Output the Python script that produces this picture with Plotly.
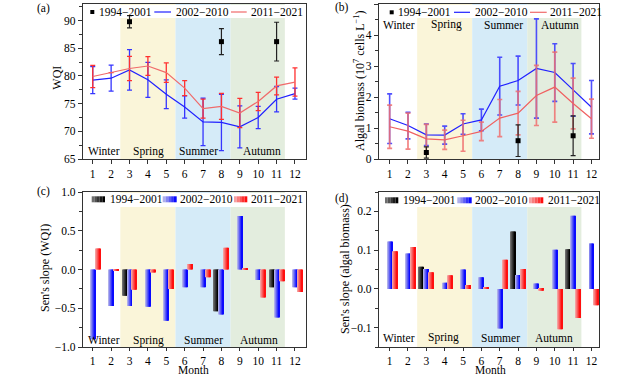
import plotly.graph_objects as go

months = list(range(1, 13))
seasons = ["Winter", "Spring", "Summer", "Autumn"]
periods = ["1994\u22122001", "2002\u22122010", "2011\u22122021"]

# (a) WQI
wqi_9401 = [None, None, 89.8, None, None, None, None, 86.2, None, None, 86.2, None]
wqi_9401_err = [0, 0, 1.1, 0, 0, 0, 0, 2.35, 0, 0, 3.5, 0]
wqi_0210 = [79.25, 79.6, 81.1, 79.3, 76.7, 74.4, 71.7, 71.6, 70.8, 72.5, 75.8, 76.8]
wqi_0210_err = [2.45, 2.35, 3.65, 3.15, 2.6, 2.0, 4.3, 5.1, 3.8, 2.0, 2.3, 1.0]
wqi_1121 = [79.9, 80.6, 81.35, 81.8, 80.6, 77.8, 74.1, 74.5, 73.3, 75.4, 78.2, 78.9]
wqi_1121_err = [2.0, None, 2.2, 1.7, 1.75, 1.35, 1.7, 2.35, 2.65, 1.65, 1.6, 2.55]

# (b) Algal biomass (10^7 cells/L)
alg_9401 = [None, None, 0.21, None, None, None, None, 0.59, None, None, 0.75, None]
alg_9401_err = [0, 0, 0.18, 0, 0, 0, 0, 0.51, 0, 0, 0.64, 0]
alg_0210 = [1.30, 1.08, 0.78, 0.77, 1.13, 1.26, 2.35, 2.53, 2.92, 2.79, 2.23, 1.67]
alg_0210_err = [0.8, 0.43, 0.35, 0.29, 0.33, 0.35, 0.93, 0.79, 1.6, 0.93, 0.85, 0.86]
alg_1121 = [1.04, 0.90, 0.65, 0.62, 0.75, 0.89, 1.32, 1.48, 2.05, 2.32, 1.79, 1.30]
alg_1121_err = [0.7, 0.58, 0.47, 0.31, 0.5, 0.3, 0.6, 0.7, 0.97, 1.13, 0.82, 0.63]

# (c) Sen's slope (WQI)
s_wqi_9401 = [None, None, -0.34, None, None, None, None, -0.54, None, None, -0.23, None]
s_wqi_0210 = [-0.90, -0.47, -0.47, -0.48, -0.66, -0.23, -0.23, -0.58, 0.69, -0.135, -0.62, -0.23]
s_wqi_1121 = [0.27, -0.01, -0.26, -0.04, -0.25, 0.07, -0.10, 0.28, 0.01, -0.36, -0.15, -0.29]

# (d) Sen's slope (algal biomass)
s_alg_9401 = [None, None, 0.057, None, None, None, None, 0.148, None, None, 0.102, None]
s_alg_0210 = [0.122, 0.091, 0.051, 0.016, 0.050, 0.030, -0.102, 0.036, 0.014, 0.101, 0.189, 0.117]
s_alg_1121 = [0.097, 0.108, 0.043, 0.035, 0.010, 0.003, 0.075, 0.051, -0.005, -0.104, -0.075, -0.042]

W, H = 640, 376
FONT = "Liberation Serif, Times New Roman, serif"
FS = 11.5


def X(px):
    return px / W


def Y(py):
    return 1 - py / H


fig = go.Figure()

# ---------- (a) ----------
fig.add_trace(go.Scatter(x=months, y=wqi_0210, mode="lines", line=dict(color="#2020ff", width=1.2),
                         error_y=dict(type="data", array=wqi_0210_err, color="#3535ff", thickness=1.3, width=2.5),
                         xaxis="x", yaxis="y", showlegend=False))
fig.add_trace(go.Scatter(x=months, y=wqi_1121, mode="lines", line=dict(color="#f06a6a", width=1.2),
                         error_y=dict(type="data", array=wqi_1121_err, color="#ff3030", thickness=1.3, width=2.5),
                         xaxis="x", yaxis="y", showlegend=False))
fig.add_trace(go.Scatter(x=months, y=wqi_9401, mode="markers", marker=dict(symbol="square", size=5, color="black"),
                         error_y=dict(type="data", array=wqi_9401_err, color="#222", thickness=1.2, width=2.5),
                         xaxis="x", yaxis="y", showlegend=False))

# ---------- (b) ----------
fig.add_trace(go.Scatter(x=months, y=alg_0210, mode="lines", line=dict(color="#2020ff", width=1.2),
                         error_y=dict(type="data", array=alg_0210_err, color="rgba(50,50,255,0.85)", thickness=1.6, width=2.5),
                         xaxis="x2", yaxis="y2", showlegend=False))
fig.add_trace(go.Scatter(x=months, y=alg_1121, mode="lines", line=dict(color="#f06060", width=1.2),
                         error_y=dict(type="data", array=alg_1121_err, color="rgba(240,110,110,0.85)", thickness=1.7, width=2.5),
                         xaxis="x2", yaxis="y2", showlegend=False))
fig.add_trace(go.Scatter(x=months, y=alg_9401, mode="markers", marker=dict(symbol="square", size=5, color="black"),
                         error_y=dict(type="data", array=alg_9401_err, color="#222", thickness=1.2, width=2.5),
                         xaxis="x2", yaxis="y2", showlegend=False))

# ---------- gradient bars ----------
BW = 0.27
NSTRIP = 5
grads = {
    "black": ((110, 110, 110), (0, 0, 0)),
    "blue": ((175, 175, 235), (10, 10, 255)),
    "red": ((245, 160, 160), (255, 15, 15)),
}


def mix(c0, c1, t):
    return "rgb(%d,%d,%d)" % tuple(round(a + (b - a) * t) for a, b in zip(c0, c1))


def grad_bars(vals, slot, key, xa, ya):
    c0, c1 = grads[key]
    for k in range(NSTRIP):
        t = k / (NSTRIP - 1)
        fig.add_trace(go.Bar(x=months, y=vals, offset=slot * BW - BW / 2 + k * BW / NSTRIP,
                             width=BW / NSTRIP, marker=dict(color=mix(c0, c1, t), line=dict(width=0)),
                             xaxis=xa, yaxis=ya, showlegend=False, hoverinfo="skip"))


for xa, ya, v1, v2, v3 in [("x3", "y3", s_wqi_9401, s_wqi_0210, s_wqi_1121),
                           ("x4", "y4", s_alg_9401, s_alg_0210, s_alg_1121)]:
    grad_bars(v1, -1, "black", xa, ya)
    grad_bars(v2, 0, "blue", xa, ya)
    grad_bars(v3, 1, "red", xa, ya)

# ---------- axes ----------
axline = dict(showline=True, linecolor="#333", linewidth=1.3, mirror=True, showgrid=False, zeroline=False,
              ticks="outside", ticklen=4, tickwidth=1.2, tickcolor="#333", automargin=False,
              tickfont=dict(family=FONT, size=FS, color="black"))
xbot = dict(axline, ticklen=3)

dA = [X(83), X(306)]
dB = [X(379), X(599)]
dTop = [Y(159), Y(4)]
dBot = [Y(347), Y(192)]

fig.update_layout(
    width=W, height=H, margin=dict(l=0, r=0, t=0, b=0, pad=0),
    paper_bgcolor="white", plot_bgcolor="white", barmode="overlay", showlegend=False,
    font=dict(family=FONT, size=FS, color="black"),
    xaxis=dict(domain=dA, range=[0.47, 12.6], tickvals=months, anchor="y", **axline),
    yaxis=dict(domain=dTop, range=[65, 93], tickvals=[65, 70, 75, 80, 85, 90], anchor="x",
               minor=dict(dtick=2.5, tick0=65, ticks="outside", ticklen=2.5, tickcolor="#333"), **axline),
    xaxis2=dict(domain=dB, range=[0.42, 12.41], tickvals=months, anchor="y2", **axline),
    yaxis2=dict(domain=dTop, range=[0, 5], tickvals=[0, 1, 2, 3, 4, 5], anchor="x2",
                minor=dict(dtick=0.5, tick0=0, ticks="outside", ticklen=2.5, tickcolor="#333"), **axline),
    xaxis3=dict(domain=dA, range=[0.47, 12.6], tickvals=months, anchor="y3", **xbot),
    yaxis3=dict(domain=dBot, range=[-1, 1], tickvals=[-1, -0.5, 0, 0.5, 1], tickformat=".1f", anchor="x3",
                minor=dict(dtick=0.25, tick0=0, ticks="outside", ticklen=2.5, tickcolor="#333"), **axline),
    xaxis4=dict(domain=dB, range=[0.42, 12.41], tickvals=months, anchor="y4", **xbot),
    yaxis4=dict(domain=dBot, range=[-0.15, 0.25], tickvals=[-0.1, 0, 0.1, 0.2], tickformat=".1f", anchor="x4",
                minor=dict(dtick=0.05, tick0=0, ticks="outside", ticklen=2.5, tickcolor="#333"), **axline),
)

# ---------- season shading ----------
season_spans = [(2.5, 5.5, "#faf5d9"), (5.5, 8.5, "#d5ebf8"), (8.5, 11.45, "#e3edde")]
shapes = []
for xr, yr in [("x", "y"), ("x2", "y2"), ("x3", "y3"), ("x4", "y4")]:
    for x0, x1, c in season_spans:
        shapes.append(dict(type="rect", xref=xr, yref=yr + " domain", x0=x0, x1=x1, y0=0, y1=1,
                           fillcolor=c, line=dict(width=0), layer="below"))

# legend white backgrounds
for (x0, x1, y0, y1) in [(85, 305, 5, 18), (381, 598, 5, 18), (85, 305, 193, 207), (381, 598, 193, 207)]:
    shapes.append(dict(type="rect", xref="paper", yref="paper", x0=X(x0), x1=X(x1), y0=Y(y1), y1=Y(y0),
                       fillcolor="white", line=dict(width=0), layer="below"))

annotations = []


def txt(x, y, s, xanchor="left", size=FS, angle=0, xref="paper", yref="paper", pad=1):
    annotations.append(dict(x=x, y=y, xref=xref, yref=yref, text=s, showarrow=False, xanchor=xanchor,
                            yanchor="middle", textangle=angle, borderpad=pad,
                            font=dict(family=FONT, size=size, color="black")))


# line legends for (a) and (b)
for (sq, t1, l2, t2, l3, t3, yy) in [(92.3, 97, (154.3, 171), 173.5, (231, 246.7), 249.3, 12),
                                      (391.7, 396, (454, 470), 472.5, (530, 546.7), 547.5, 12.3)]:
    shapes.append(dict(type="rect", xref="paper", yref="paper", x0=X(sq - 2), x1=X(sq + 2), y0=Y(yy + 2), y1=Y(yy - 2),
                       fillcolor="black", line=dict(width=0)))
    shapes.append(dict(type="line", xref="paper", yref="paper", x0=X(l2[0]), x1=X(l2[1]), y0=Y(yy), y1=Y(yy),
                       line=dict(color="#2020ff", width=1.2)))
    shapes.append(dict(type="line", xref="paper", yref="paper", x0=X(l3[0]), x1=X(l3[1]), y0=Y(yy), y1=Y(yy),
                       line=dict(color="#f06a6a", width=1.2)))
    for tx, lab in zip([t1, t2, t3], periods):
        txt(X(tx), Y(yy), lab)

# bar legends for (c) and (d)
for (sw, tx, yy) in [([(91.7, 105), (162.7, 176.7), (234, 247.3)], [107.5, 178.2, 249.3], 199.3),
                     ([(385, 398.3), (457.3, 471.7), (529, 543.3)], [401, 473.3, 546], 200.3)]:
    for (a, b), key in zip(sw, ["black", "blue", "red"]):
        c0, c1 = grads[key]
        n = 5
        for k in range(n):
            shapes.append(dict(type="rect", xref="paper", yref="paper",
                               x0=X(a + (b - a) * k / n), x1=X(a + (b - a) * (k + 1) / n),
                               y0=Y(yy + 3), y1=Y(yy - 3), fillcolor=mix(c0, c1, k / (n - 1)),
                               line=dict(width=0)))
    for t, lab in zip(tx, periods):
        txt(X(t), Y(yy), lab)

# season labels
season_pos = {
    ("x", "y"): ([1.61, 4.02, 6.74, 10.19], 0.05),
    ("x2", "y2"): ([1.51, 4.09, 7.18, 10.31], 0.865),
    ("x3", "y3"): ([1.61, 4.02, 7.05, 10.06], 0.045),
    ("x4", "y4"): ([1.51, 3.95, 7.04, 9.97], 0.06),
}
for (xr, yr), (xs, yv) in season_pos.items():
    for xv, s in zip(xs, seasons):
        txt(xv, yv, s, xanchor="center", xref=xr, yref=yr + " domain")

# panel labels
for lab, px, py in [("(a)", 43, 8.5), ("(b)", 342, 7.5), ("(c)", 43.5, 192), ("(d)", 342, 198.5)]:
    txt(X(px), Y(py), lab, xanchor="center")

# axis titles
txt(X(56.7), Y(78), "WQI", xanchor="center", angle=-90, size=12)
txt(X(359), Y(81), "Algal biomass (10<sup>7</sup> cells L<sup>\u22121</sup>)", xanchor="center", angle=-90, size=12)
txt(X(45), Y(268), "Sen's slope (WQI)", xanchor="center", angle=-90, size=12)
txt(X(345), Y(269), "Sen's slope (algal biomass)", xanchor="center", angle=-90, size=12)
txt(X(193.3), Y(370.2), "Month", xanchor="center", size=11.5, pad=0)
txt(X(490), Y(370.2), "Month", xanchor="center", size=11.5, pad=0)

fig.update_layout(shapes=shapes, annotations=annotations)
fig.write_html("out.html", config={"displayModeBar": False},
               post_script="document.body.style.margin='0';document.body.style.overflow='hidden';")
